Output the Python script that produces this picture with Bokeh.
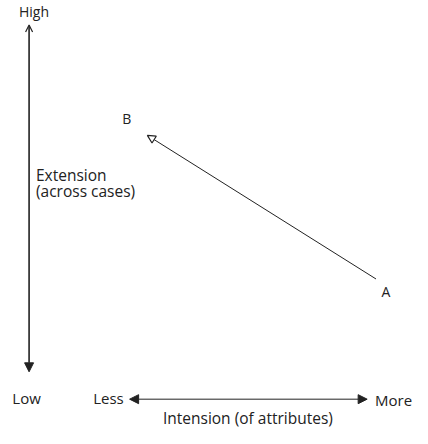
from bokeh.plotting import figure
from bokeh.models import Arrow, NormalHead, OpenHead, Range1d, ColumnDataSource
from bokeh.core.properties import value
from bokeh.embed import file_html
from bokeh.resources import INLINE

# Diagram positions (reference picture coordinates)
case_names = ["A", "B"]
case_x = [387, 155]
case_y = [292, 145]
case_label_x = [397, 134]
case_label_y = [305, 128]

ext_axis_x = [35, 35]
ext_axis_y = [32, 387]
int_axis_x = [137, 378]
int_axis_y = [415, 415]

label_text = ["High", "Low", "Less", "More", "Extension", "(across cases)", "Intension (of attributes)"]
label_x = [40, 18, 100, 386, 42, 42, 257]
label_y = [18, 414, 414, 416, 186, 202, 434]
label_size = ["14px", "15px", "15px", "15px", "15.5px", "15.5px", "15.5px"]
label_align = ["center", "left", "left", "left", "left", "left", "center"]

p = figure(width=412, height=428, output_backend="svg", toolbar_location=None,
           x_range=Range1d(6, 424), y_range=Range1d(445, 7), min_border=0)
p.axis.visible = False
p.grid.visible = False
p.outline_line_color = None
p.background_fill_color = "white"

col = "#222222"
# Extension axis (vertical, double headed)
p.add_layout(Arrow(start=OpenHead(size=7, line_color=col, line_width=1.2),
                   end=NormalHead(size=9, fill_color=col, line_color=col),
                   x_start=ext_axis_x[0], y_start=ext_axis_y[0],
                   x_end=ext_axis_x[1], y_end=ext_axis_y[1],
                   line_color=col, line_width=1.6))
# Intension axis (horizontal, double headed)
p.add_layout(Arrow(start=NormalHead(size=9, fill_color=col, line_color=col),
                   end=NormalHead(size=9, fill_color=col, line_color=col),
                   x_start=int_axis_x[0], y_start=int_axis_y[0],
                   x_end=int_axis_x[1], y_end=int_axis_y[1],
                   line_color=col, line_width=1.0))
# A -> B arrow
p.add_layout(Arrow(end=NormalHead(size=8, fill_color="white", line_color=col, line_width=1.2),
                   x_start=case_x[0], y_start=case_y[0],
                   x_end=case_x[1], y_end=case_y[1],
                   line_color=col, line_width=1.0))

src = ColumnDataSource(dict(x=label_x, y=label_y, t=label_text, s=label_size, a=label_align))
p.text(x="x", y="y", text="t", text_font_size="s", text_align="a", text_baseline="middle",
       text_font=value("Open Sans"), text_color=col, source=src)

p.text(x=case_label_x, y=case_label_y, text=case_names, text_font_size="14px",
       text_align="center", text_baseline="middle", text_font=value("Open Sans"), text_color=col)

open("out.html", "w").write(file_html(p, INLINE))
